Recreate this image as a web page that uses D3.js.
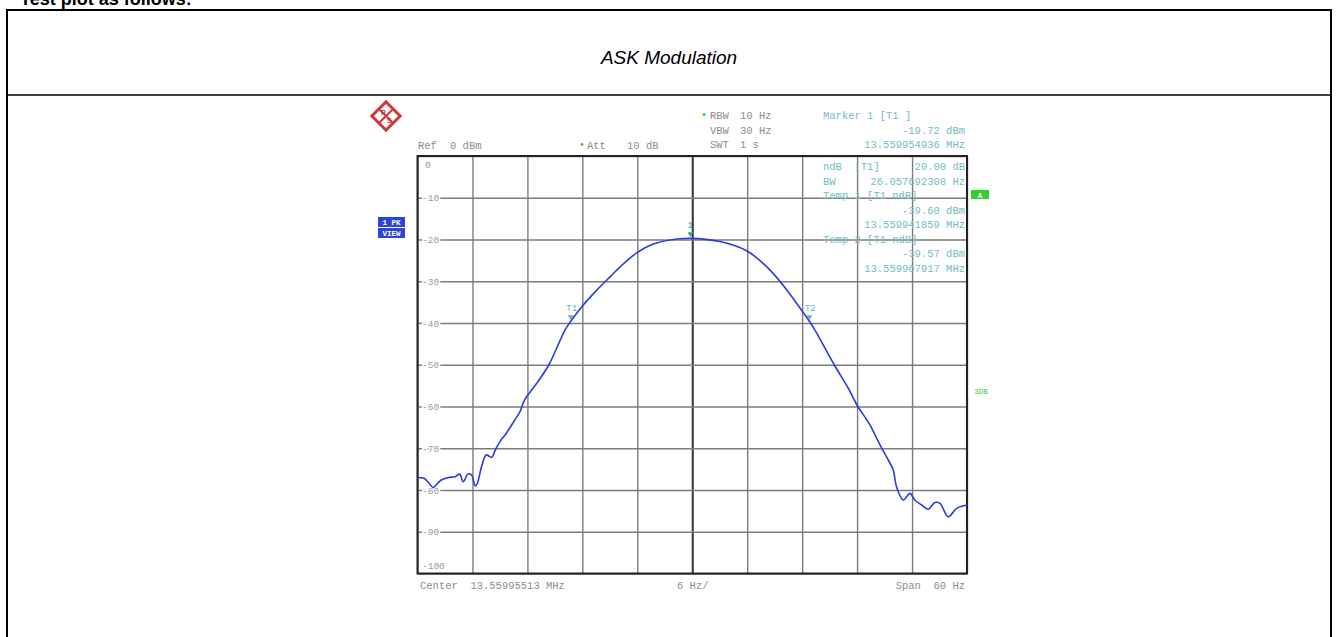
<!DOCTYPE html>
<html><head><meta charset="utf-8">
<script src="https://cdn.jsdelivr.net/npm/d3@7"></script>
<style>
html,body{margin:0;padding:0;background:#fff;}
svg{display:block;}
text{white-space:pre;}
</style></head><body>
<svg id="c" width="1338" height="637"></svg>
<script>
// ---------------- data ----------------
const pageHeading = "Test plot as follows:";
const chartTitle = "ASK Modulation";
const centerLabel = "Center  13.55995513 MHz";
const divLabel = "6 Hz/";
const spanLabel = "Span  60 Hz";
const freqDomainHz = [-30, 30];
const levelDomainDbm = [0, -100];
const xGridHz = [-30, -24, -18, -12, -6, 0, 6, 12, 18, 24, 30];
const yGridDbm = [0, -10, -20, -30, -40, -50, -60, -70, -80, -90, -100];
const yTickLabels = ["0", "-10", "-20", "-30", "-40", "-50", "-60", "-70", "-80", "-90", "-100"];

// trace (offset from center in Hz, level in dBm)
const traceFreqHz = [-30.0, -29.3, -28.8, -28.3, -27.8, -27.4, -26.6, -25.9, -25.4, -25.0, -24.5, -24.1, -23.7, -23.5,
  -23.0, -22.5, -21.9, -21.5, -21.0, -20.3, -19.6, -18.8, -18.3, -17.0, -15.65, -13.9, -13.27, -12.1, -10.5, -9.0, -7.9,
  -6.07, -4.26, -2.43, -0.19, 3.02, 5.94, 8.12, 9.94, 11.5, 12.79, 13.4, 15.5, 17.0, 18.0, 19.4, 20.5, 21.4, 21.95,
  22.3, 23.04, 23.77, 24.3, 25.05, 25.77, 26.5, 27.05, 27.95, 28.87, 30.0];
const traceLevelDbm = [-77.0, -77.2, -78.2, -79.4, -78.4, -77.6, -77.0, -76.8, -76.2, -78.0, -76.2, -76.4, -79.0, -78.6,
  -74.4, -71.6, -72.2, -70.4, -68.4, -66.4, -64.0, -61.2, -58.4, -54.5, -50.0, -41.7, -39.6, -36.2, -32.3, -29.0, -26.6,
  -23.2, -21.1, -20.1, -19.72, -20.5, -22.7, -26.5, -31.0, -35.6, -39.57, -41.7, -50.0, -55.5, -59.7, -64.4, -69.2, -72.8, -75.2,
  -79.2, -82.4, -80.8, -82.4, -83.6, -84.6, -83.0, -83.2, -86.4, -84.4, -83.6];

const markerNames = ["1", "T1", "T2"];
const markerFreqHz = [-0.19, -13.27, 12.79];
const markerLevelDbm = [-19.72, -39.60, -39.57];

const headerLeft = ["Ref", "0 dBm"];
const headerAtt = ["Att", "10 dB"];
const headerSettings = [["RBW", "10 Hz"], ["VBW", "30 Hz"], ["SWT", "1 s"]];
const markerInfoTop = ["Marker 1 [T1 ]", "-19.72 dBm", "13.559954936 MHz"];
const ndbInfo = ["ndB  [T1]", "20.00 dB"];
const bwInfo = ["BW", "26.057692308 Hz"];
const tempInfo = ["Temp 1 [T1 ndB]", "-39.60 dBm", "13.559941859 MHz", "Temp 2 [T1 ndB]", "-39.57 dBm", "13.559967917 MHz"];

// ---------------- drawing ----------------
const svg = d3.select("#c");
const W = 1338, H = 637;
const L = 417.5, R = 967, T = 156, B = 573.5;
const mono = "'Liberation Mono','DejaVu Sans Mono',monospace";
const gray = "#8d8d8d", teal = "#72bcc6";

// document table
svg.append("text").attr("x", 20).attr("y", 5).attr("font-family", "'Liberation Sans',Arial,sans-serif")
  .attr("font-weight", "bold").attr("font-size", 18).attr("fill", "#000").text(pageHeading);
svg.append("path").attr("d", `M7,${H} V10 H1331 V${H}`).attr("fill", "none").attr("stroke", "#000").attr("stroke-width", 2);
svg.append("line").attr("x1", 7).attr("x2", 1331).attr("y1", 95).attr("y2", 95).attr("stroke", "#000").attr("stroke-width", 1.5);
svg.append("text").attr("x", 669).attr("y", 64).attr("text-anchor", "middle")
  .attr("font-family", "'Liberation Sans',Arial,sans-serif").attr("font-style", "italic").attr("font-size", 19)
  .attr("fill", "#000").text(chartTitle);

const x = d3.scaleLinear().domain(freqDomainHz).range([L, R]);
const y = d3.scaleLinear().domain(levelDomainDbm).range([T, B]);

// grid via axes
const gx = svg.append("g").attr("transform", `translate(0,${B})`)
  .call(d3.axisBottom(x).tickValues(xGridHz).tickSize(-(B - T)).tickFormat(""));
gx.select(".domain").remove();
gx.selectAll(".tick line").attr("stroke", d => d === 0 ? "#333" : "#7c7c7c").attr("stroke-width", d => d === 0 ? 2 : 1.4);

const gy = svg.append("g").attr("transform", `translate(${L},0)`)
  .call(d3.axisLeft(y).tickValues(yGridDbm).tickSize(-(R - L)).tickFormat(""));
gy.select(".domain").remove();
gy.selectAll(".tick line").attr("stroke", "#7c7c7c").attr("stroke-width", 1.4);

// y labels
svg.append("g").selectAll("text").data(yGridDbm).join("text")
  .attr("x", (d, i) => i === 0 ? 425 : 422)
  .attr("y", (d, i) => i === 0 ? y(d) + 12 : (i === yGridDbm.length - 1 ? y(d) - 5 : y(d) + 3.5))
  .attr("font-family", mono).attr("font-size", 9.5).attr("fill", "#9a9a9a")
  .attr("stroke", "#fff").attr("stroke-width", 3).attr("paint-order", "stroke")
  .text((d, i) => yTickLabels[i]);

// frame
svg.append("rect").attr("x", L).attr("y", T).attr("width", R - L).attr("height", B - T)
  .attr("fill", "none").attr("stroke", "#222").attr("stroke-width", 2);

// trace
const pts = traceFreqHz.map((f, i) => [f, traceLevelDbm[i]]);
svg.append("path").datum(pts)
  .attr("d", d3.line().x(d => x(d[0])).y(d => y(d[1])).curve(d3.curveCatmullRom.alpha(0.5)))
  .attr("fill", "none").attr("stroke", "#2a3bd8").attr("stroke-width", 1.6);

// markers
markerNames.forEach((n, i) => {
  const mx = x(markerFreqHz[i]), my = y(markerLevelDbm[i]);
  const col = i === 0 ? "#2aa58c" : "#5fb4c0";
  svg.append("path").attr("d", `M${mx - 3},${my - 6} L${mx + 3},${my - 6} L${mx},${my - 1} Z`).attr("fill", col);
  svg.append("text").attr("x", mx + (i === 0 ? 0 : 1)).attr("y", my - 10).attr("text-anchor", "middle")
    .attr("font-family", mono).attr("font-size", 9).attr("fill", col).text(n);
});

// header texts
function t(xp, yp, s, col, anchor, size) {
  return svg.append("text").attr("x", xp).attr("y", yp).attr("text-anchor", anchor || "start")
    .attr("font-family", mono).attr("font-size", size || 10.5).attr("fill", col).text(s);
}
t(418, 149, headerLeft[0], gray); t(450, 149, headerLeft[1], gray);
t(582, 148, "•", "#2ec02e", "middle", 10); t(587, 149, headerAtt[0], gray); t(627, 149, headerAtt[1], gray);
t(704, 118, "•", "#2ec02e", "middle", 10);
headerSettings.forEach((s, i) => { t(710, 119 + i * 14.5, s[0], gray); t(740, 119 + i * 14.5, s[1], gray); });
t(823, 119, markerInfoTop[0], teal);
t(965, 133.5, markerInfoTop[1], teal, "end");
t(965, 148, markerInfoTop[2], teal, "end");
t(823, 170, ndbInfo[0], teal); t(965, 170, ndbInfo[1], teal, "end");
t(823, 184.5, bwInfo[0], teal); t(965, 184.5, bwInfo[1], teal, "end");
tempInfo.forEach((s, i) => {
  const yy = 199 + i * 14.5;
  if (i % 3 === 0) t(823, yy, s, teal); else t(965, yy, s, teal, "end");
});

// bottom labels
t(420, 589, centerLabel, gray);
t(677, 589, divLabel, gray);
t(965, 589, spanLabel, gray, "end");

// side boxes
svg.append("rect").attr("x", 378).attr("y", 217).attr("width", 27).attr("height", 10).attr("fill", "#2b45d8");
svg.append("rect").attr("x", 378).attr("y", 228).attr("width", 27).attr("height", 10).attr("fill", "#2b45d8");
t(391.5, 225, "1 PK", "#fff", "middle", 7.5).attr("font-weight", "bold");
t(391.5, 236, "VIEW", "#fff", "middle", 7.5).attr("font-weight", "bold");
svg.append("rect").attr("x", 971).attr("y", 190).attr("width", 18).attr("height", 9).attr("fill", "#2fd02f");
t(980, 197.5, "A", "#fff", "middle", 7.5).attr("font-weight", "bold");
t(981, 394, "3DB", "#3cc83c", "middle", 7.5);

// R&S logo
const lg = svg.append("g").attr("transform", "translate(386,116) rotate(45)");
lg.append("rect").attr("x", -10).attr("y", -10).attr("width", 20).attr("height", 20)
  .attr("fill", "#fff").attr("stroke", "#cc3a3a").attr("stroke-width", 3);
lg.append("line").attr("x1", -10).attr("x2", 10).attr("y1", 0).attr("y2", 0).attr("stroke", "#cc3a3a").attr("stroke-width", 2);
lg.append("line").attr("x1", 0).attr("x2", 0).attr("y1", -10).attr("y2", 10).attr("stroke", "#cc3a3a").attr("stroke-width", 2);
svg.append("text").attr("x", 381).attr("y", 115).attr("font-family", "'Liberation Sans',sans-serif").attr("font-size", 7)
  .attr("font-weight", "bold").attr("fill", "#cc3a3a").text("R");
svg.append("text").attr("x", 387).attr("y", 123).attr("font-family", "'Liberation Sans',sans-serif").attr("font-size", 7)
  .attr("font-weight", "bold").attr("fill", "#cc3a3a").text("S");
</script>
</body></html>
